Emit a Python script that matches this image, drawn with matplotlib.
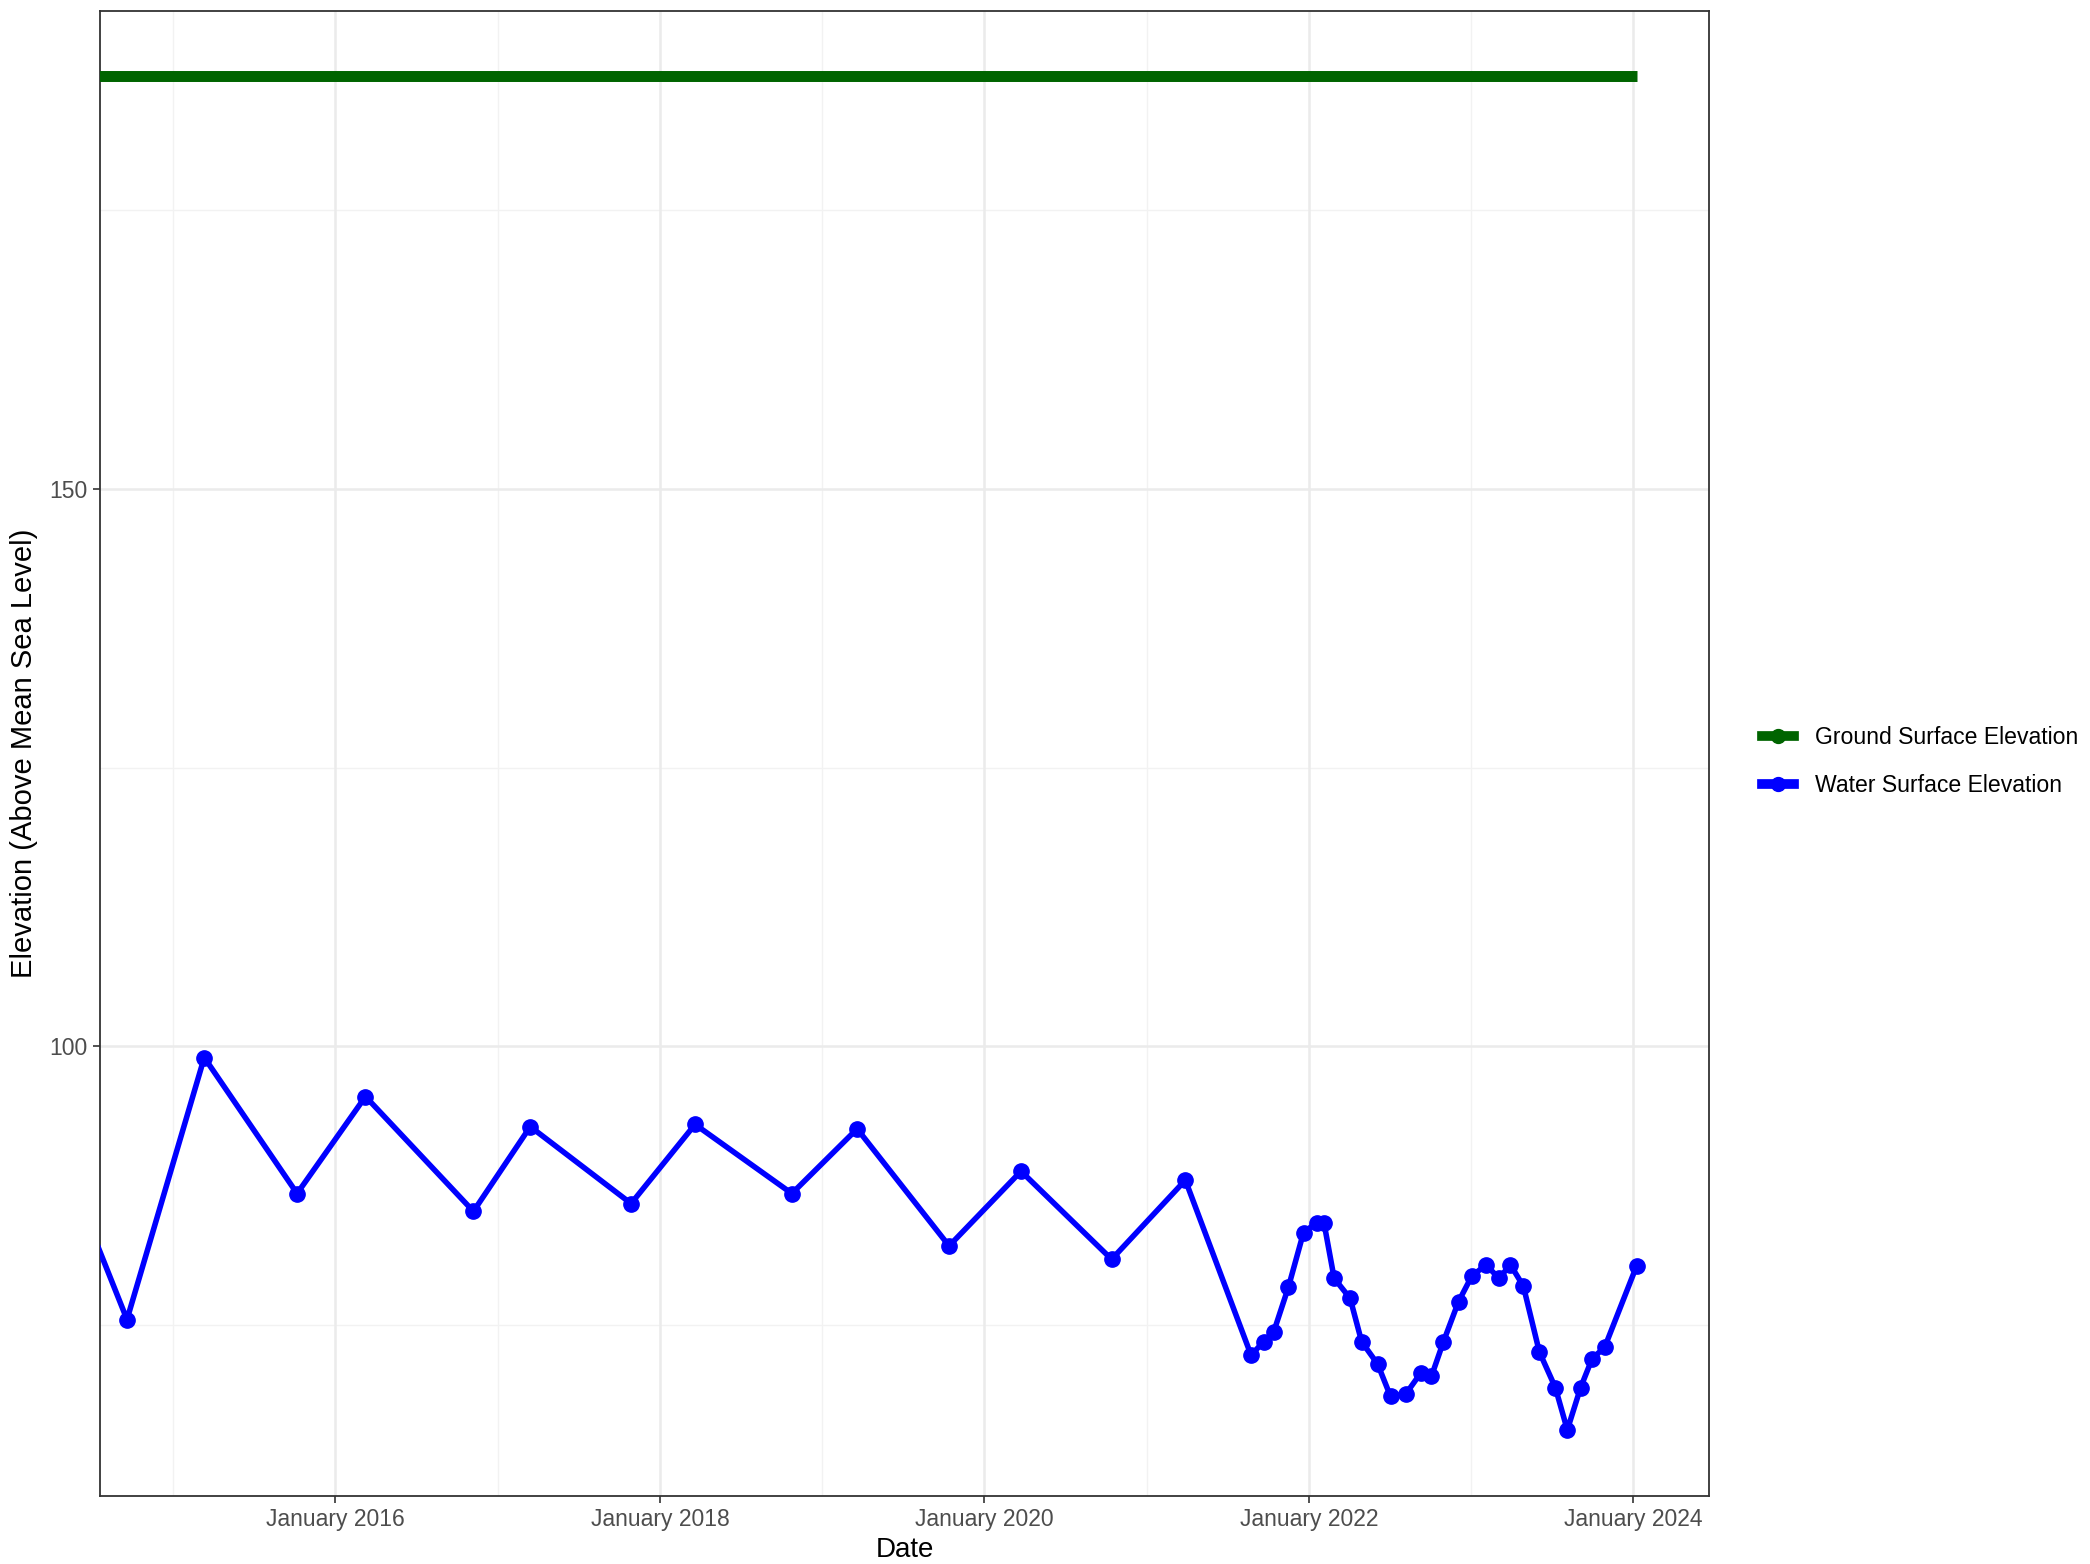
import matplotlib
matplotlib.use("Agg")
import matplotlib.pyplot as plt
import matplotlib.dates as mdates
from matplotlib.lines import Line2D
import pandas as pd

plt.rcParams['font.family'] = ['Liberation Sans', 'DejaVu Sans']

# Data
water_dates = ['2014-05-15', '2014-09-19', '2015-03-12', '2015-10-07', '2016-03-09', '2016-11-07',
               '2017-03-15', '2017-10-28', '2018-03-21', '2018-10-25', '2019-03-21', '2019-10-14',
               '2020-03-24', '2020-10-14', '2021-03-29', '2021-08-24', '2021-09-21', '2021-10-14',
               '2021-11-16', '2021-12-20', '2022-01-19', '2022-02-04', '2022-02-27', '2022-04-04',
               '2022-04-30', '2022-06-05', '2022-07-04', '2022-08-07', '2022-09-10', '2022-10-04',
               '2022-10-31', '2022-12-04', '2023-01-03', '2023-02-04', '2023-03-05', '2023-03-31',
               '2023-04-29', '2023-06-04', '2023-07-10', '2023-08-06', '2023-09-05', '2023-10-01',
               '2023-10-29', '2024-01-09']
water_elev = [88.2, 75.5, 99.0, 86.8, 95.5, 85.2,
              92.8, 85.9, 93.0, 86.8, 92.6, 82.1,
              88.8, 80.9, 88.0, 72.3, 73.5, 74.4,
              78.4, 83.3, 84.2, 84.2, 79.2, 77.4,
              73.5, 71.5, 68.6, 68.8, 70.7, 70.4,
              73.5, 77.1, 79.4, 80.4, 79.2, 80.4,
              78.5, 72.6, 69.4, 65.6, 69.4, 72.0,
              73.0, 80.3]
ground_dates = ['2014-05-15', '2024-01-09']
ground_elev = [187.0, 187.0]

x_limits = ['2014-07-20', '2024-06-20']
x_ticks = ['2016-01-01', '2018-01-01', '2020-01-01', '2022-01-01', '2024-01-01']
x_minor = ['2015-01-01', '2017-01-01', '2019-01-01', '2021-01-01', '2023-01-01']
y_ticks = [100, 150]
y_minor = [75, 125, 175]

wd = pd.to_datetime(water_dates)
gd = pd.to_datetime(ground_dates)

fig = plt.figure(figsize=(20.9, 15.64), dpi=100)
ax = fig.add_axes([0.0478, 0.0437, 0.7699, 0.9495])

# grid like theme_bw
for d in pd.to_datetime(x_minor):
    ax.axvline(d, color='#F2F2F2', lw=1.0, zorder=0)
for v in y_minor:
    ax.axhline(v, color='#F2F2F2', lw=1.0, zorder=0)
for d in pd.to_datetime(x_ticks):
    ax.axvline(d, color='#EBEBEB', lw=1.8, zorder=0)
for v in y_ticks:
    ax.axhline(v, color='#EBEBEB', lw=1.8, zorder=0)

ax.plot(gd, ground_elev, color='#006400', lw=7.9, solid_capstyle='butt', zorder=3)
ax.plot(wd, water_elev, color='#0000FF', lw=4.0, marker='o', markersize=11, zorder=3)

ax.set_xlim(pd.to_datetime(x_limits[0]), pd.to_datetime(x_limits[1]))
ax.set_ylim(59.7, 192.9)
ax.set_xticks(pd.to_datetime(x_ticks))
ax.xaxis.set_major_formatter(mdates.DateFormatter('%B %Y'))
ax.set_yticks(y_ticks)

ax.tick_params(axis='both', length=5, width=1.2, color='#333333', labelsize=16.5,
               labelcolor='#4D4D4D', pad=4)
for s in ax.spines.values():
    s.set_color('#333333')
    s.set_linewidth(1.3)

ax.set_xlabel('Date', fontsize=20, labelpad=4)
ax.set_ylabel('Elevation (Above Mean Sea Level)', fontsize=21, labelpad=8)

handles = [Line2D([], [], color='#006400', lw=7, marker='o', markersize=10),
           Line2D([], [], color='#0000FF', lw=7, marker='o', markersize=10)]
labels = ['Ground Surface Elevation', 'Water Surface Elevation']
fig.legend(handles, labels, loc='center left', bbox_to_anchor=(0.833, 0.513), frameon=False,
           fontsize=16.6, handlelength=1.4, handletextpad=0.9, labelspacing=1.1)

fig.savefig('out.png', dpi=100)
